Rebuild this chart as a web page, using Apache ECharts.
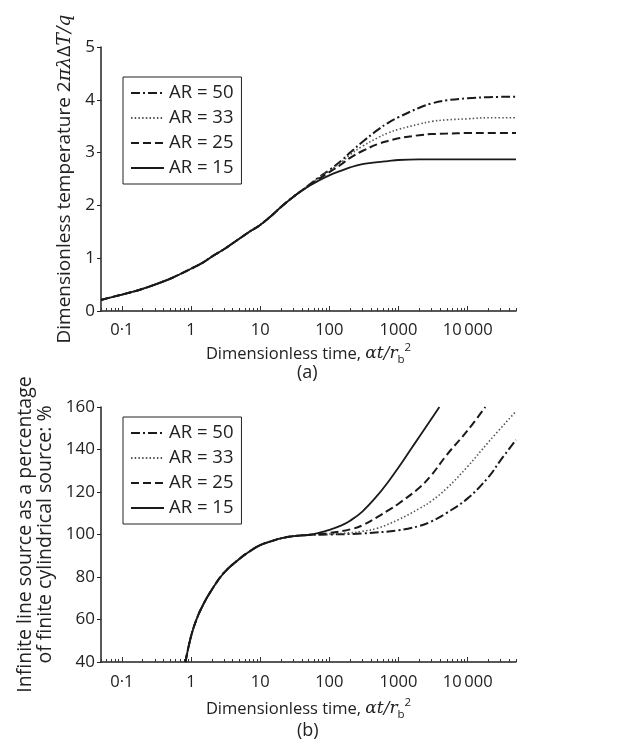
<!DOCTYPE html>
<html><head><meta charset="utf-8">
<script src="https://cdn.jsdelivr.net/npm/echarts@6/dist/echarts.min.js"></script>
<style>html,body{margin:0;padding:0;background:#fff}#c{width:643px;height:745px}</style>
</head><body><div id="c"></div>
<script>
// ---------- DATA ----------
const seriesNames = ['AR = 50', 'AR = 33', 'AR = 25', 'AR = 15'];
const xLabelValues = [0.1, 1, 10, 100, 1000, 10000];

// (a) Dimensionless temperature vs dimensionless time
const tA = [0.05,0.07,0.1,0.15,0.2,0.3,0.5,0.7,1,1.5,2,3,5,7,10,15,20,30,40,50,70,100,150,200,300,500,700,1000,2000,3000,5000,10000,20000,50000];
const tempAR15 = [0.21,0.26,0.31,0.37,0.42,0.50,0.61,0.70,0.80,0.92,1.03,1.17,1.37,1.50,1.63,1.82,1.97,2.16,2.28,2.36,2.47,2.57,2.66,2.72,2.78,2.82,2.84,2.86,2.87,2.87,2.87,2.87,2.87,2.87];
const tempAR25 = [0.21,0.26,0.31,0.37,0.42,0.50,0.61,0.70,0.80,0.92,1.03,1.17,1.37,1.50,1.63,1.82,1.97,2.16,2.28,2.37,2.50,2.63,2.78,2.90,3.03,3.16,3.22,3.27,3.33,3.35,3.36,3.37,3.37,3.37];
const tempAR33 = [0.21,0.26,0.31,0.37,0.42,0.50,0.61,0.70,0.80,0.92,1.03,1.17,1.37,1.50,1.63,1.82,1.97,2.16,2.28,2.38,2.52,2.65,2.82,2.96,3.12,3.28,3.37,3.44,3.54,3.59,3.62,3.64,3.66,3.66];
const tempAR50 = [0.21,0.26,0.31,0.37,0.42,0.50,0.61,0.70,0.80,0.92,1.03,1.17,1.37,1.50,1.63,1.82,1.97,2.16,2.28,2.38,2.53,2.67,2.85,3.00,3.20,3.43,3.56,3.67,3.85,3.93,3.99,4.03,4.05,4.06];

// (b) Infinite line source as % of finite cylindrical source
const tB15 = [0.83,1,1.2,1.5,2,3,5,7,10,15,20,30,50,70,100,150,200,300,500,700,1000,1500,2000,3000,3900];
const pctAR15 = [40,52,60,67,74,82,88.5,92,95,97,98.2,99.2,99.8,100.8,102.2,104.3,106.5,110.8,118.5,124.5,131.5,140,146,154.5,160];
const tB25 = [0.83,1,1.2,1.5,2,3,5,7,10,15,20,30,50,70,100,200,300,500,700,1000,2000,3000,5000,10000,18000];
const pctAR25 = [40,52,60,67,74,82,88.5,92,95,97,98.2,99.2,99.9,100.2,100.7,102.4,104.3,108.3,111.2,114.5,122,128,137.5,149,160];
const tB33 = [0.83,1,1.2,1.5,2,3,5,7,10,15,20,30,50,70,100,200,300,500,1000,2000,3000,5000,10000,20000,50000];
const pctAR33 = [40,52,60,67,74,82,88.5,92,95,97,98.2,99.2,99.9,100,100.2,100.8,101.5,103,107,112.2,115.8,121.8,132,143.5,158];
const tB50 = [0.83,1,1.2,1.5,2,3,5,7,10,15,20,30,50,100,300,1000,2000,3000,5000,10000,20000,30000,50000];
const pctAR50 = [40,52,60,67,74,82,88.5,92,95,97,98.2,99.2,99.8,100,100.5,102,104,106.2,110.2,117,127,135,144.5];

// ---------- STYLE ----------
const FONT = "'Open Sans', 'Noto Sans', sans-serif";
const INK = '#222';
const styles = {
  'AR = 50': {color: '#1a1a1a', width: 2, type: [9, 3, 2, 3]},
  'AR = 33': {color: '#555', width: 1.6, type: [1.5, 2.2]},
  'AR = 25': {color: '#1a1a1a', width: 2, type: [8, 4]},
  'AR = 15': {color: '#1a1a1a', width: 1.8, type: 'solid'}
};

const minorTicks = [];
for (let e = -2; e <= 4; e++) {
  for (let m = 1; m <= 9; m++) {
    const v = +(m * Math.pow(10, e)).toPrecision(6);
    if (v >= 0.05 && v <= 50000) minorTicks.push(v);
  }
}

function fmtX(v) {
  if (Math.abs(v - 0.1) < 1e-9) return '0·1';
  if (Math.abs(v - 10000) < 1e-6) return '10\u2009000';
  return String(Math.round(v));
}

const xNameRich = {
  n: {fontSize: 16.5, fontFamily: FONT, color: INK, lineHeight: 24},
  i: {fontSize: 17, fontFamily: 'DejaVu Serif, serif', fontStyle: 'italic', color: INK, lineHeight: 24},
  sub: {fontSize: 11.5, fontFamily: FONT, color: INK, lineHeight: 24, verticalAlign: 'bottom'},
  sup: {fontSize: 11.5, fontFamily: FONT, color: INK, lineHeight: 24, verticalAlign: 'top'}
};
const xName = '{n|Dimensionless time, }{i|αt/r}{sub|b}{sup|2}';

function xAxes(gridIndex, margin, nameGap) {
  return [{
    type: 'log', logBase: 10, gridIndex: gridIndex, position: 'bottom',
    min: 0.05, max: 50000,
    axisLine: {show: true, lineStyle: {color: INK, width: 1.5}},
    axisTick: {show: true, inside: true, length: 3, customValues: minorTicks, lineStyle: {color: '#333', width: 1}},
    axisLabel: {customValues: xLabelValues, formatter: fmtX, fontSize: 16.5, fontFamily: FONT, color: INK, margin: margin},
    splitLine: {show: false}, minorTick: {show: false},
    name: xName, nameLocation: 'middle', nameGap: nameGap,
    nameTextStyle: {rich: xNameRich}
  }, {
    type: 'log', logBase: 10, gridIndex: gridIndex, position: 'bottom',
    min: 0.05, max: 50000,
    axisLine: {show: false},
    axisTick: {show: true, inside: true, length: 5, customValues: xLabelValues, lineStyle: {color: '#333', width: 1}},
    axisLabel: {show: false}, splitLine: {show: false}
  }];
}

function yAxis(gridIndex, min, max, interval, name, nameGap, rich) {
  return {
    type: 'value', gridIndex: gridIndex, min: min, max: max, interval: interval,
    axisLine: {show: true, lineStyle: {color: INK, width: 1.5}},
    axisTick: {show: true, inside: false, length: 4, lineStyle: {color: INK, width: 1}},
    axisLabel: {fontSize: 17, fontFamily: FONT, color: INK, margin: 6},
    splitLine: {show: false},
    name: name, nameLocation: 'middle', nameGap: nameGap,
    nameTextStyle: rich
  };
}

const yNameRichA = {rich: {
  n: {fontSize: 19, fontFamily: FONT, color: INK, lineHeight: 22},
  i: {fontSize: 19, fontFamily: 'DejaVu Serif, serif', fontStyle: 'italic', color: INK, lineHeight: 22}
}};
const yNameA = '{n|Dimensionless temperature 2}{i|πλ}{n|Δ}{i|T/q}';
const yNameB = 'Infinite line source as a percentage\nof finite cylindrical source: %';

function mkSeries(name, xs, ys, xi, yi) {
  const s = styles[name];
  return {
    type: 'line', name: name, xAxisIndex: xi, yAxisIndex: yi,
    data: xs.map((x, k) => [x, ys[k]]),
    showSymbol: false, symbol: 'none', smooth: 0.4, clip: true,
    lineStyle: {color: s.color, width: s.width, type: s.type},
    itemStyle: {color: s.color},
    emphasis: {disabled: true}
  };
}

function legend(top) {
  return {
    left: 123, top: top, orient: 'vertical', data: seriesNames,
    itemWidth: 33, itemHeight: 14, itemGap: 5,
    padding: [6, 8, 6, 7], borderColor: INK, borderWidth: 1, borderRadius: 0,
    backgroundColor: '#fff',
    itemStyle: {opacity: 0},
    textStyle: {fontSize: 18.5, fontFamily: FONT, color: INK, lineHeight: 20},
    selectedMode: false
  };
}

const chart = echarts.init(document.getElementById('c'), null, {renderer: 'canvas'});
chart.setOption({
  animation: false,
  backgroundColor: '#fff',
  grid: [
    {left: 101, top: 47, width: 415, height: 264},
    {left: 101, top: 407, width: 415, height: 255}
  ],
  xAxis: [].concat(xAxes(0, 11, 31), xAxes(1, 12, 35)),
  yAxis: [
    yAxis(0, 0, 5, 1, yNameA, 24, yNameRichA),
    yAxis(1, 40, 160, 20, yNameB, 28, {fontSize: 19.5, fontFamily: FONT, color: INK, lineHeight: 20, align: 'center'})
  ],
  legend: [legend(77), legend(417)],
  series: [
    mkSeries('AR = 50', tA, tempAR50, 0, 0),
    mkSeries('AR = 33', tA, tempAR33, 0, 0),
    mkSeries('AR = 25', tA, tempAR25, 0, 0),
    mkSeries('AR = 15', tA, tempAR15, 0, 0),
    mkSeries('AR = 50', tB50, pctAR50, 2, 1),
    mkSeries('AR = 33', tB33, pctAR33, 2, 1),
    mkSeries('AR = 25', tB25, pctAR25, 2, 1),
    mkSeries('AR = 15', tB15, pctAR15, 2, 1)
  ],
  graphic: [
    {type: 'text', left: 297, top: 364, style: {text: '(a)', font: "18px 'Open Sans', sans-serif", fill: INK}},
    {type: 'text', left: 297, top: 722, style: {text: '(b)', font: "18px 'Open Sans', sans-serif", fill: INK}}
  ]
});
</script></body></html>
